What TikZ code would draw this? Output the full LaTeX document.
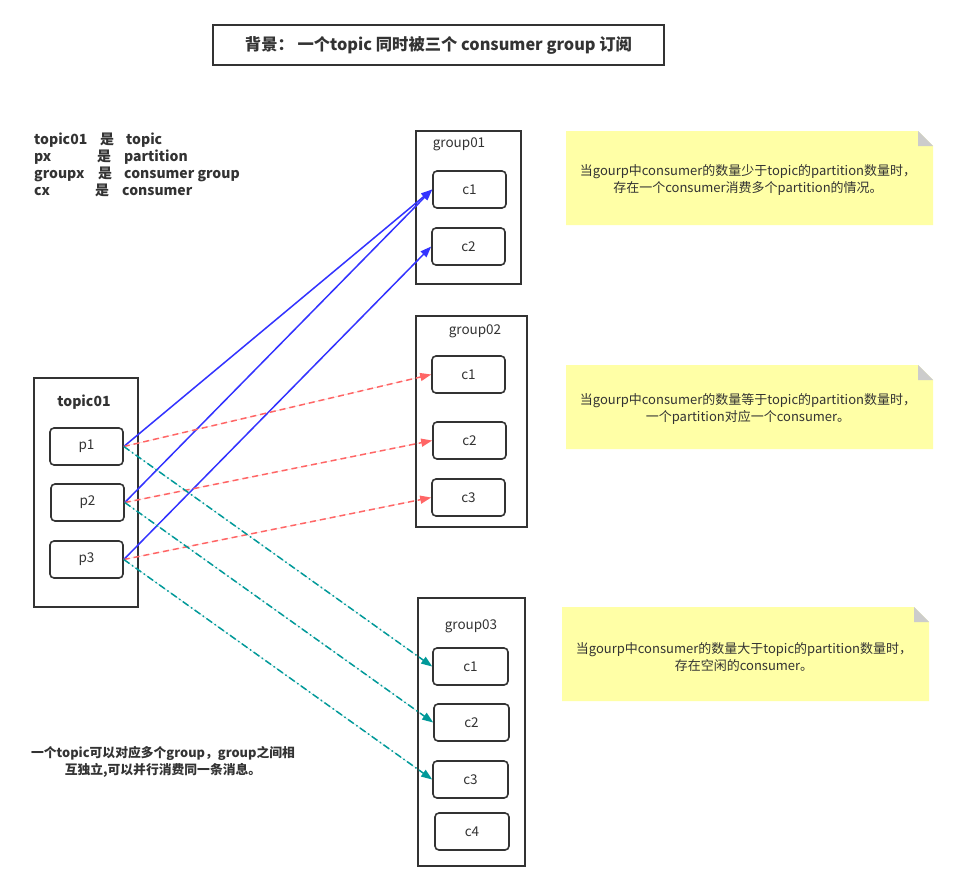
\documentclass[tikz,border=0pt]{standalone}
\usepackage{fontspec}
\setmainfont{Noto Sans CJK SC}
\usetikzlibrary{arrows.meta}
\definecolor{dk}{HTML}{333333}
\definecolor{bl}{HTML}{3333FF}
\definecolor{rd}{HTML}{FF6666}
\definecolor{tl}{HTML}{009999}
\definecolor{notey}{HTML}{FFFFA6}
\definecolor{fold}{HTML}{CCCCCC}
\tikzset{
  outer/.style={draw=dk,line width=1.6pt,minimum width=#1},
  inner/.style={draw=dk,line width=1.6pt,rounded corners=4pt,minimum height=37pt,minimum width=73pt,font=\fontsize{13.5}{15}\selectfont,text=dk,inner sep=0pt},
  lbl/.style={font=\fontsize{13.5}{15}\selectfont,text=dk,inner sep=0pt},
  blab/.style={font=\fontsize{14}{16}\selectfont\bfseries,text=dk,inner sep=0pt},
  leg/.style={blab,anchor=base west},
  notetext/.style={font=\fontsize{13}{17}\selectfont,text=dk,align=center,inner sep=0pt},
  tip/.style={-{Triangle[length=11pt,width=8pt]}},
  blue/.style={tip,draw=bl,fill=bl,line width=1.5pt},
  red/.style={tip,draw=rd,fill=rd,line width=1.5pt,dash pattern=on 6pt off 4pt},
  teal/.style={tip,draw=tl,fill=tl,line width=1.5pt,dash pattern=on 7pt off 3pt on 1.5pt off 3pt},
}
\newcommand{\notebox}[4]{% x1 y1 x2 y2
  \fill[notey] (#1,#2) -- (#3-15,#2) -- (#3,#2+15) -- (#3,#4) -- (#1,#4) -- cycle;
  \fill[fold] (#3-15,#2) -- (#3,#2+15) -- (#3-15,#2+15) -- cycle;
}
\begin{document}
\begin{tikzpicture}[x=1pt,y=-1pt]
\useasboundingbox (0,0) rectangle (959,891);
\fill[white] (0,0) rectangle (959,891);

% title
\node[draw=dk,line width=1.6pt,minimum width=451pt,minimum height=40pt,font=\fontsize{16.3}{19}\selectfont\bfseries,text=dk] (title) at (438.5,45) {背景： 一个topic 同时被三个 consumer group 订阅};

% legend
\node[leg] (l1a) at (34,144.5) {topic01};
\node[leg] (l1b) at (100,144.5) {是};
\node[leg] (l1c) at (126,144.5) {topic};
\node[leg] (l2a) at (34,161.5) {px};
\node[leg] (l2b) at (97,161.5) {是};
\node[leg] (l2c) at (124,161.5) {partition};
\node[leg] (l3a) at (34,178.5) {groupx};
\node[leg] (l3b) at (98,178.5) {是};
\node[leg] (l3c) at (124,178.5) {consumer group};
\node[leg] (l4a) at (34,195.5) {cx};
\node[leg] (l4b) at (95,195.5) {是};
\node[leg] (l4c) at (122,195.5) {consumer};

% topic
\node[outer=104pt,minimum height=229pt] (topic) at (86,492.5) {};
\node[blab] (topiclbl) at (84,402) {topic01};
\node[inner] (p1) at (86.5,446.5) {p1};
\node[inner] (p2) at (87.5,502.5) {p2};
\node[inner] (p3) at (86.5,559.5) {p3};

% group01
\node[outer=105pt,minimum height=153pt] (g1) at (468.5,207.5) {};
\node[lbl] (g1lbl) at (459,144) {group01};
\node[inner] (g1c1) at (469.5,189.5) {c1};
\node[inner] (g1c2) at (468.5,246.5) {c2};

% group02
\node[outer=111pt,minimum height=211pt] (g2) at (471.5,421.5) {};
\node[lbl] (g2lbl) at (475,331) {group02};
\node[inner] (g2c1) at (468.5,374.5) {c1};
\node[inner] (g2c2) at (469.5,440.5) {c2};
\node[inner] (g2c3) at (468.5,497.5) {c3};

% group03
\node[outer=107pt,minimum height=268pt] (g3) at (471.5,732) {};
\node[lbl] (g3lbl) at (471,626) {group03};
\node[inner,minimum width=75pt] (g3c1) at (470.5,666.5) {c1};
\node[inner,minimum width=75pt] (g3c2) at (471.5,722.5) {c2};
\node[inner,minimum width=75pt] (g3c3) at (470.5,779.5) {c3};
\node[inner,minimum width=74pt] (g3c4) at (472,831.5) {c4};

% notes
\notebox{566}{131}{933}{225}
\node[notetext] (n1) at (748,180) {当gourp中consumer的数量少于topic的partition数量时，\\存在一个consumer消费多个partition的情况。};
\notebox{566}{365}{933}{449}
\node[notetext] (n2) at (748,409) {当gourp中consumer的数量等于topic的partition数量时，\\一个partition对应一个consumer。};
\notebox{562}{607}{929}{701}
\node[notetext] (n3) at (744,657) {当gourp中consumer的数量大于topic的partition数量时，\\存在空闲的consumer。};

% bottom text
\node[font=\fontsize{12.8}{17}\selectfont\bfseries,text=dk,align=center,inner sep=0pt] (bottom) at (163,761.5) {一个topic可以对应多个group，group之间相\\互独立,可以并行消费同一条消息。};

% connectors
\draw[blue] (p1.east) -- (g1c1.west);
\draw[blue] (p2.east) -- (g1c1.west);
\draw[blue] (p3.east) -- (g1c2.west);
\draw[red] (p1.east) -- (g2c1.west);
\draw[red] (p2.east) -- (g2c2.west);
\draw[red] (p3.east) -- (g2c3.west);
\draw[teal] (p1.east) -- (g3c1.west);
\draw[teal] (p2.east) -- (g3c2.west);
\draw[teal] (p3.east) -- (g3c3.west);
\end{tikzpicture}
\end{document}
